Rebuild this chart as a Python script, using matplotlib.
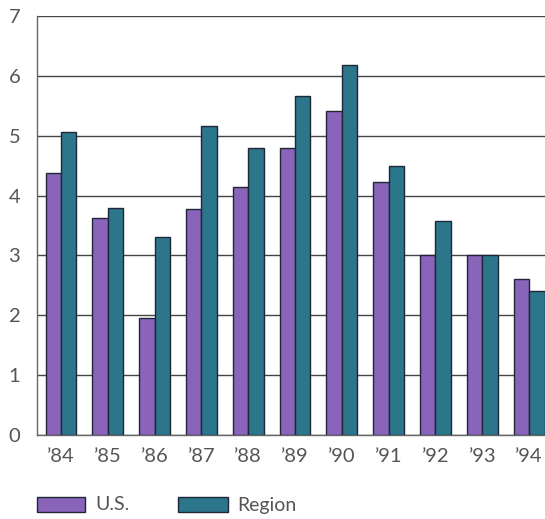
import matplotlib
matplotlib.use("Agg")
import matplotlib.pyplot as plt
import numpy as np
from matplotlib.patches import Rectangle

years = ["\u201984", "\u201985", "\u201986", "\u201987", "\u201988", "\u201989",
         "\u201990", "\u201991", "\u201992", "\u201993", "\u201994"]
us = [4.38, 3.63, 1.95, 3.78, 4.15, 4.80, 5.42, 4.22, 3.00, 3.00, 2.60]
region = [5.07, 3.80, 3.30, 5.17, 4.80, 5.66, 6.18, 4.50, 3.58, 3.00, 2.40]
series_names = ["U.S.", "Region"]

purple = "#8a63bb"
teal = "#2b768b"
edge = "#1e2638"
gray = "#555555"

plt.rcParams['font.family'] = ['Lato', 'DejaVu Sans']

fig = plt.figure(figsize=(5.45, 5.19), dpi=100)
ax = fig.add_axes([37/545, 84/519, 1 - 37/545, 419/519])

x = np.arange(len(years))
w = 0.33
ax.bar(x - w/2, us, width=w, color=purple, edgecolor=edge, linewidth=1.0, zorder=3)
ax.bar(x + w/2, region, width=w, color=teal, edgecolor=edge, linewidth=1.0, zorder=3)

ax.set_ylim(0, 7)
ax.set_xlim(-0.513, 10.34)
ax.set_yticks(range(0, 8))
ax.yaxis.grid(True, color="#444444", linewidth=1.0, zorder=0)
ax.set_xticks(x)
ax.set_xticklabels(years)
ax.tick_params(axis='both', length=0, labelsize=14.5, labelcolor=gray)
ax.tick_params(axis='x', pad=9)
ax.tick_params(axis='y', pad=12)
for s in ["top", "right"]:
    ax.spines[s].set_visible(False)
for s in ["left", "bottom"]:
    ax.spines[s].set_color("#666666")
    ax.spines[s].set_linewidth(1.0)

# legend
fig.patches.append(Rectangle((37/545, 1 - 512/519), 48/545, 15/519, transform=fig.transFigure,
                             facecolor=purple, edgecolor=edge, linewidth=1.0))
fig.text(95/545, 1 - 505/519, series_names[0], fontsize=14, color=gray, va='center')
fig.patches.append(Rectangle((178/545, 1 - 512/519), 50/545, 15/519, transform=fig.transFigure,
                             facecolor=teal, edgecolor=edge, linewidth=1.0))
fig.text(237/545, 1 - 505/519, series_names[1], fontsize=14, color=gray, va='center')

fig.savefig("out.png", dpi=100)
